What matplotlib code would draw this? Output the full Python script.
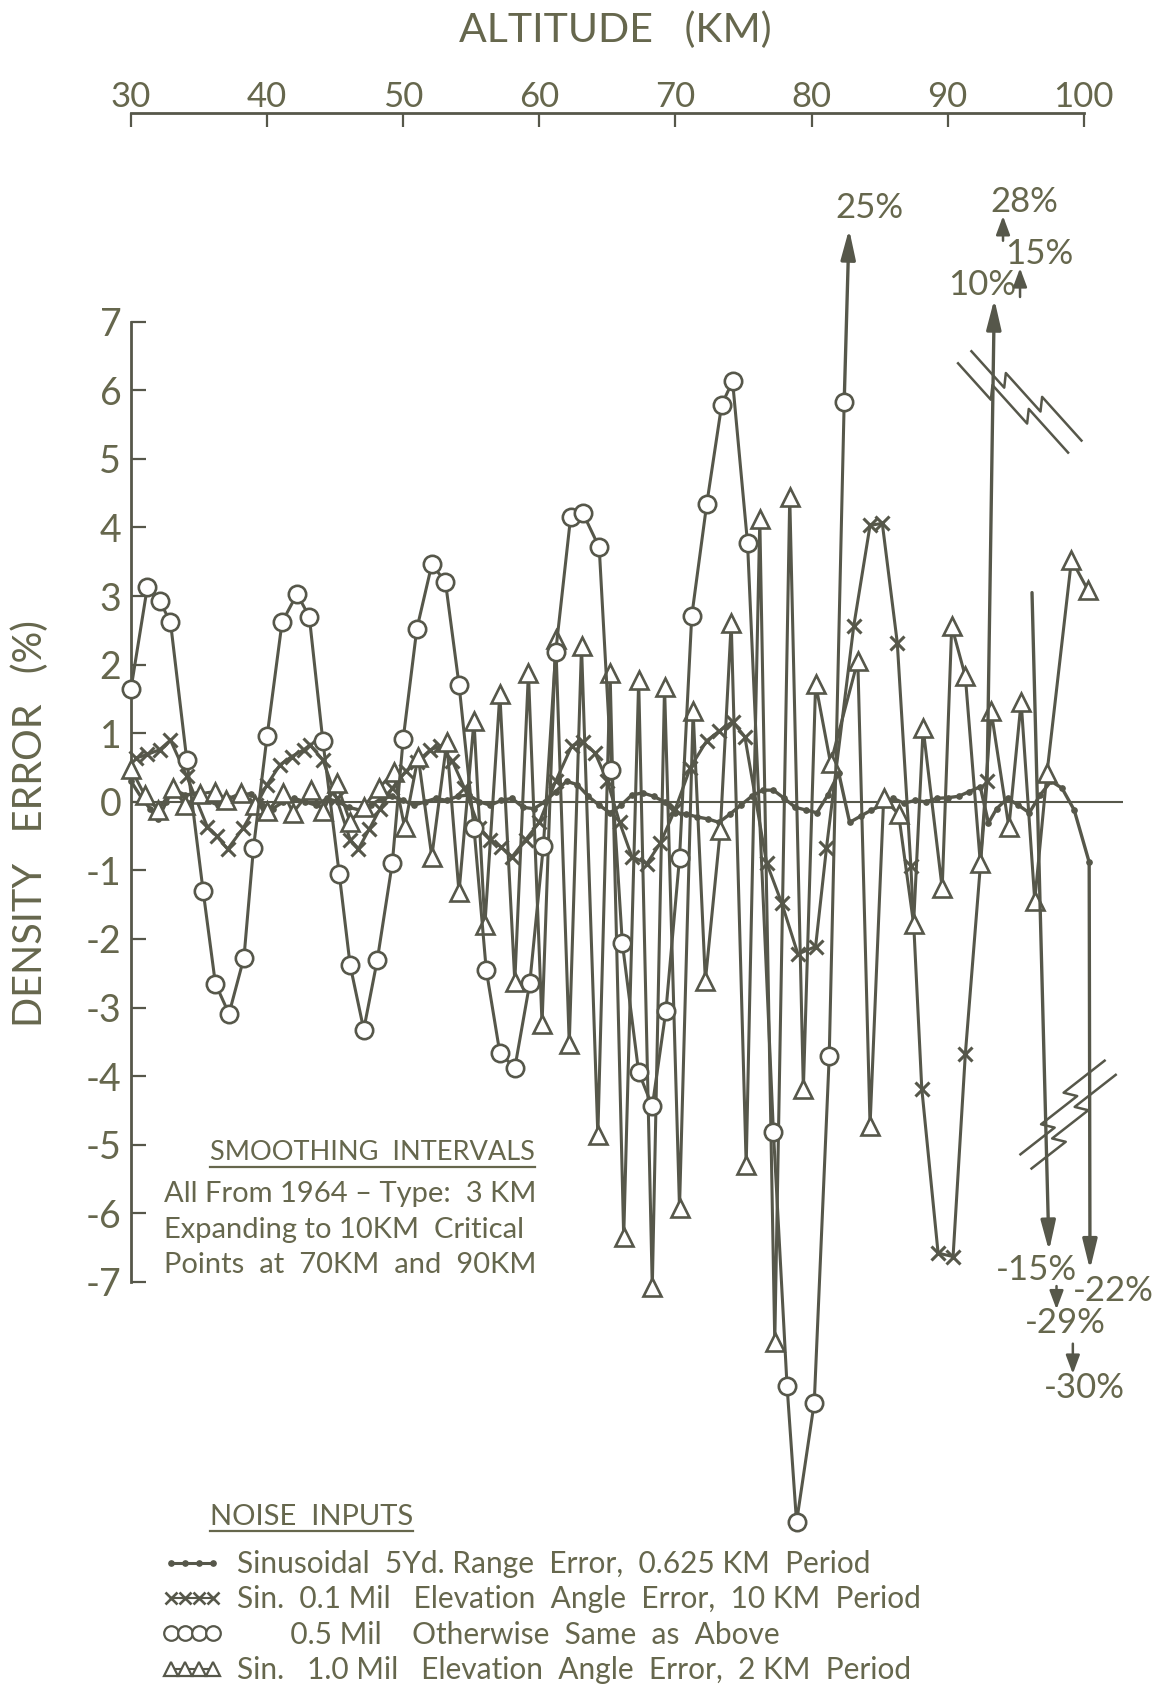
import numpy as np
import matplotlib.pyplot as plt
from matplotlib.lines import Line2D

plt.rcParams['font.family'] = ['Lato', 'DejaVu Sans']

INK = "#56574a"
TEXT = "#66674d"

# ---- density error (%) vs altitude (km) for each noise input ----

# sinusoidal 5 yd range error, 0.625 km period
alt_range = [30.0, 30.8, 31.4, 32.0, 32.6, 33.1, 34.0, 34.8, 35.6, 36.4, 37.2, 38.0, 38.8, 39.6,
             40.4, 41.2, 42.0, 42.8, 43.6, 44.4, 45.2, 46.0, 46.8, 47.6, 48.4, 49.2, 50.0, 50.8,
             51.6, 52.4, 53.2, 54.0, 54.8, 55.6, 56.4, 57.2, 58.0, 58.8, 59.6, 60.4, 61.2, 62.0,
             62.8, 63.6, 64.4, 65.2, 66.0, 66.8, 67.6, 68.4, 69.2, 70.0, 70.8, 71.6, 72.4, 73.2,
             74.0, 74.8, 75.6, 76.4, 77.2, 78.0, 78.8, 79.6, 80.4, 81.2, 82.0, 82.8, 83.6, 84.4,
             85.2, 86.0, 86.8, 87.6, 88.4, 89.2, 90.0, 90.8, 91.6, 92.4, 93.0, 93.6, 94.4, 95.2,
             96.0, 96.8, 97.6, 98.4, 99.3, 100.4]
err_range = [0.30, 0.05, -0.10, -0.25, 0.00, 0.18, 0.10, 0.12, 0.02, -0.05, 0.05, 0.10, 0.12, -0.05,
             -0.10, 0.00, 0.05, 0.00, -0.05, 0.05, 0.00, -0.08, -0.12, -0.05, 0.05, 0.08, 0.02, -0.05,
             0.00, 0.05, 0.02, 0.08, 0.10, 0.00, -0.05, 0.02, 0.05, -0.08, -0.10, 0.00, 0.15, 0.30,
             0.25, 0.08, -0.05, -0.16, -0.05, 0.10, 0.13, 0.08, 0.00, -0.16, -0.18, -0.22, -0.25, -0.30,
             -0.18, -0.05, 0.08, 0.17, 0.17, 0.05, -0.08, -0.12, -0.16, 0.10, 0.42, -0.30, -0.21, -0.12,
             -0.05, 0.05, -0.02, 0.02, 0.00, 0.05, 0.06, 0.08, 0.15, 0.22, -0.31, -0.10, 0.05, -0.05,
             -0.16, 0.10, 0.30, 0.20, -0.12, -0.88]

# sin. 0.1 mil elevation angle error, 10 km period
alt_el01 = [30.4, 31.2, 32.1, 32.9, 34.1, 35.6, 36.3, 37.1, 38.25, 39.2, 40.0, 40.95, 41.8, 42.7,
            43.15, 44.1, 45.1, 46.1, 46.7, 47.5, 48.3, 49.2, 50.2, 51.0, 52.0, 52.7, 53.6, 54.5,
            55.6, 56.4, 57.2, 58.0, 59.0, 60.0, 61.2, 62.4, 63.2, 64.1, 65.0, 65.9, 66.8, 67.9,
            68.9, 70.0, 71.1, 72.3, 73.2, 74.2, 75.1, 76.7, 77.8, 79.0, 80.3, 81.1, 83.1, 84.3,
            85.2, 86.3, 87.3, 88.1, 89.3, 90.4, 91.3, 92.9]
err_el01 = [0.64, 0.69, 0.76, 0.90, 0.37, -0.36, -0.50, -0.69, -0.38, -0.05, 0.25, 0.54, 0.66, 0.76,
            0.83, 0.61, 0.05, -0.55, -0.69, -0.40, -0.10, 0.20, 0.45, 0.58, 0.76, 0.81, 0.60, 0.20,
            -0.38, -0.55, -0.66, -0.80, -0.55, -0.30, 0.30, 0.82, 0.87, 0.71, 0.30, -0.30, -0.80, -0.90,
            -0.60, -0.10, 0.50, 0.89, 1.03, 1.17, 0.95, -0.89, -1.47, -2.22, -2.11, -0.67, 2.56, 4.03,
            4.06, 2.32, -0.94, -4.18, -6.58, -6.63, -3.68, 0.30]

# 0.5 mil, otherwise same as above
alt_el05 = [30.0, 31.2, 32.1, 32.9, 34.1, 35.3, 36.2, 37.2, 38.3, 39.0, 40.0, 41.1, 42.2, 43.1,
            44.1, 45.3, 46.1, 47.1, 48.1, 49.2, 50.0, 51.0, 52.1, 53.1, 54.1, 55.2, 56.1, 57.1,
            58.2, 59.3, 60.3, 61.2, 62.3, 63.2, 64.4, 65.3, 66.1, 67.3, 68.3, 69.3, 70.3, 71.2,
            72.3, 73.4, 74.2, 75.3, 77.2, 78.2, 78.9, 80.2, 81.3, 82.4]
err_el05 = [1.65, 3.13, 2.93, 2.62, 0.61, -1.30, -2.65, -3.09, -2.27, -0.67, 0.96, 2.62, 3.03, 2.70,
            0.88, -1.05, -2.38, -3.32, -2.30, -0.89, 0.92, 2.52, 3.46, 3.21, 1.71, -0.38, -2.45, -3.66,
            -3.88, -2.64, -0.64, 2.18, 4.15, 4.21, 3.71, 0.47, -2.06, -3.94, -4.44, -3.05, -0.82, 2.71,
            4.34, 5.79, 6.13, 3.77, -4.81, -8.51, -10.50, -8.76, -3.71, 5.83]

# sin. 1.0 mil elevation angle error, 2 km period
alt_el10 = [30.0, 31.0, 32.0, 33.1, 34.0, 35.1, 36.2, 37.0, 38.1, 39.1, 40.0, 41.2, 41.9, 43.2,
            44.1, 45.1, 46.1, 47.1, 48.2, 49.3, 50.1, 51.1, 52.1, 53.2, 54.1, 55.2, 56.0, 57.1,
            58.2, 59.2, 60.2, 61.2, 62.2, 63.1, 64.3, 65.2, 66.2, 67.3, 68.3, 69.2, 70.3, 71.3,
            72.2, 73.3, 74.1, 75.2, 76.2, 77.3, 78.4, 79.4, 80.3, 81.4, 83.4, 84.3, 85.3, 86.4,
            87.5, 88.2, 89.6, 90.3, 91.3, 92.4, 93.2, 94.5, 95.4, 96.4, 97.3, 99.1, 100.3]
err_el10 = [0.48, 0.10, -0.12, 0.20, -0.05, 0.12, 0.15, 0.03, 0.13, -0.05, -0.14, 0.13, -0.16, 0.17,
            -0.14, 0.27, -0.29, -0.07, 0.20, 0.43, -0.37, 0.66, -0.80, 0.87, -1.32, 1.18, -1.80, 1.57,
            -2.62, 1.88, -3.24, 2.38, -3.53, 2.27, -4.86, 1.88, -6.35, 1.77, -7.08, 1.68, -5.92, 1.32,
            -2.61, -0.41, 2.61, -5.30, 4.12, -7.88, 4.45, -4.19, 1.72, 0.56, 2.06, -4.72, 0.05, -0.18,
            -1.78, 1.07, -1.26, 2.56, 1.83, -0.89, 1.32, -0.37, 1.46, -1.44, 0.42, 3.53, 3.09]

# off-scale excursions: value (%) and where its label sits
off_pct = [25, 10, 28, 15, -15, -22, -29, -30]
off_lbl_alt = [84.25, 92.56, 95.65, 96.7, 96.5, 102.2, 98.63, 100.07]
off_lbl_err = [8.66, 7.54, 8.74, 7.99, -6.82, -7.13, -7.60, -8.54]

# long arrows leaving the scale (start -> tip)
arrow_from = [(82.4, 5.83), (92.9, 0.30), (96.2, 3.05), (100.4, -0.88)]
arrow_to = [(82.76, 8.35), (93.43, 7.33), (97.45, -6.55), (100.46, -6.82)]
# short arrows between stacked labels
small_from = [(94.07, 8.18), (95.32, 7.36), (98.0, -7.06), (99.2, -7.90)]
small_to = [(94.07, 8.54), (95.32, 7.78), (98.0, -7.40), (99.2, -8.34)]

fig = plt.figure(figsize=(11.59, 16.88), dpi=100)
ax = fig.add_axes([0, 0, 1, 1])
ax.set_xlim(20.375, 105.53)
ax.set_ylim(-12.92, 11.69)
ax.patch.set_alpha(0)

# axes: altitude scale on top, error scale on the left
for side in ("right", "bottom"):
    ax.spines[side].set_visible(False)
ax.spines["top"].set_position(("data", 10.04))
ax.spines["top"].set_bounds(30, 100)
ax.spines["left"].set_position(("data", 30))
ax.spines["left"].set_bounds(-7, 7)
for side in ("top", "left"):
    ax.spines[side].set_color(INK)
    ax.spines[side].set_linewidth(2.0)

ax.xaxis.set_ticks_position("top")
ax.set_xticks(range(30, 101, 10))
ax.set_xticklabels([str(v) for v in range(30, 101, 10)])
ax.tick_params(axis="x", direction="in", length=10, width=1.6, pad=0,
               labelsize=25, colors=INK, labelcolor=TEXT)
ax.set_yticks(range(-7, 8))
ax.set_yticklabels([str(v).replace("\u2212", "-") for v in range(-7, 8)])
ax.tick_params(axis="y", direction="in", length=11, width=1.6, pad=7,
               labelsize=27, colors=INK, labelcolor=TEXT)

ax.text(65.56, 11.25, "ALTITUDE   (KM)", ha="center", va="center", fontsize=29.5, color=TEXT)
ax.text(22.58, -0.31, "DENSITY   ERROR   (%)", ha="center", va="center", rotation=90,
        fontsize=28.5, color=TEXT)

ax.hlines(0, 30, 102.86, color=INK, lw=1.5, zorder=1)

# series
ax.plot(alt_range, err_range, color=INK, lw=2.4, marker="o", ms=3.8, zorder=3)
ax.plot(alt_el01, err_el01, color=INK, lw=2.2, marker="x", ms=10, mew=2.2, zorder=3)
ax.plot(alt_el10, err_el10, color=INK, lw=2.2, marker="^", ms=13, mfc="white", mec=INK,
        mew=1.9, zorder=4)
ax.plot(alt_el05, err_el05, color=INK, lw=2.2, marker="o", ms=12.5, mfc="white", mec=INK,
        mew=1.9, zorder=5)

for (x0, y0), (x1, y1) in zip(arrow_from, arrow_to):
    ax.annotate("", xy=(x1, y1), xytext=(x0, y0),
                arrowprops=dict(arrowstyle="-|>,head_length=0.9,head_width=0.22", color=INK,
                                lw=2.4, mutation_scale=20, shrinkA=0, shrinkB=0), zorder=4)
for (x0, y0), (x1, y1) in zip(small_from, small_to):
    ax.annotate("", xy=(x1, y1), xytext=(x0, y0),
                arrowprops=dict(arrowstyle="-|>,head_length=0.75,head_width=0.28", color=INK,
                                lw=1.8, mutation_scale=15, shrinkA=0, shrinkB=0), zorder=4)
for pct, x, y in zip(off_pct, off_lbl_alt, off_lbl_err):
    ax.text(x, y, f"{pct}%".replace("\u2212", "-"), ha="center", va="center", fontsize=25,
            color=TEXT)


# scale-break marks drawn in pixel offsets around a data point
def draw_break(cx, cy, angle, half=70, sep=16):
    u = np.array([-1.0, -0.3, -0.44, 0.3, 0.16, 1.0]) * half
    v = np.array([0.0, 0.0, 11.0, 11.0, 22.0, 22.0]) - 11.0
    c, s = np.cos(np.radians(angle)), np.sin(np.radians(angle))
    centre = ax.transData.transform((cx, cy))
    inv = ax.transData.inverted()
    for off in (-sep / 2, sep / 2):
        vv = v + off
        px = centre[0] + u * c - vv * s
        py = centre[1] + u * s + vv * c
        pts = inv.transform(np.column_stack([px, py]))
        ax.plot(pts[:, 0], pts[:, 1], color=INK, lw=1.8, zorder=6)


draw_break(95.3, 5.83, -48, half=70, sep=18)
draw_break(98.85, -4.56, 38, half=62, sep=18)

# smoothing note
hdr1 = ax.text(35.8, -5.11, "SMOOTHING  INTERVALS", ha="left", va="center", fontsize=19.5,
               color=TEXT)
note = ["All From 1964 \u2013 Type:  3 KM",
        "Expanding to 10KM  Critical",
        "Points  at  70KM  and  90KM"]
for line, y in zip(note, [-5.72, -6.24, -6.76]):
    ax.text(32.42, y, line, ha="left", va="center", fontsize=21, color=TEXT)

hdr2 = ax.text(35.8, -10.42, "NOISE  INPUTS", ha="left", va="center", fontsize=21, color=TEXT)

handles = [
    Line2D([], [], color=INK, lw=2.2, marker="o", ms=3.8),
    Line2D([], [], color=INK, lw=1.5, marker="x", ms=8.5, mew=1.9),
    Line2D([], [], color=INK, ls="none", marker="o", ms=10.5, mfc="white", mew=1.6),
    Line2D([], [], color=INK, lw=1.5, marker="^", ms=10.5, mfc="white", mew=1.6),
]
labels = ["Sinusoidal  5Yd. Range  Error,  0.625 KM  Period",
          "Sin.  0.1 Mil   Elevation  Angle  Error,  10 KM  Period",
          "       0.5 Mil    Otherwise  Same  as  Above",
          "Sin.   1.0 Mil   Elevation  Angle  Error,  2 KM  Period"]
ax.legend(handles, labels, loc="upper left", bbox_to_anchor=(162 / 1159, 1 - 1550 / 1688),
          bbox_transform=fig.transFigure, frameon=False, numpoints=4, handlelength=2.0,
          handletextpad=0.5, labelspacing=0.25, borderpad=0, borderaxespad=0, fontsize=21.5,
          labelcolor=TEXT)

fig.canvas.draw()
for t in (hdr1, hdr2):
    bb = t.get_window_extent().transformed(fig.transFigure.inverted())
    fig.add_artist(Line2D([bb.x0, bb.x1], [bb.y0 - 0.001, bb.y0 - 0.001], color=TEXT, lw=1.6,
                          transform=fig.transFigure))

fig.savefig("out.png", dpi=100, facecolor="white")
